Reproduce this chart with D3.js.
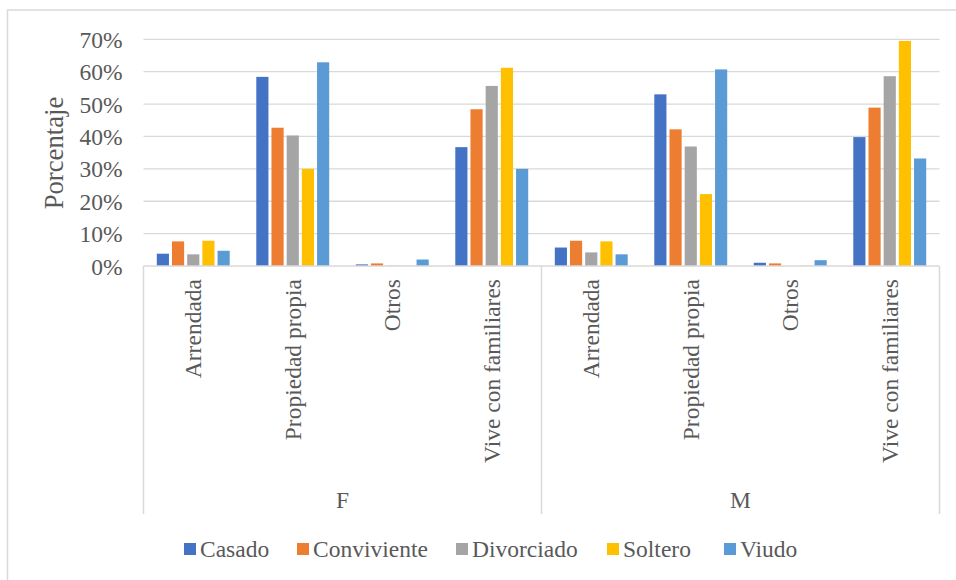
<!DOCTYPE html>
<html>
<head>
<meta charset="utf-8">
<script src="https://cdn.jsdelivr.net/npm/d3@7"></script>
<style>
    body { margin: 0; background: #fff; }
    text { font-family: "Liberation Serif", "Times New Roman", serif; fill: #595959; }
</style>
</head>
<body>
<div id="chart"></div>
<script>
// data
var sexos = ['F', 'M'];
var viviendas = ['Arrendada', 'Propiedad propia', 'Otros', 'Vive con familiares'];
var estados = ['Casado', 'Conviviente', 'Divorciado', 'Soltero', 'Viudo'];
var colores = ['#4472C4', '#ED7D31', '#A5A5A5', '#FFC000', '#5B9BD5'];

// values in order F (Arrendada, Propiedad, Otros, Vive), then M (same)
var casado      = [0.038, 0.584, 0.005, 0.367, 0.057, 0.530, 0.010, 0.398];
var conviviente = [0.076, 0.427, 0.008, 0.484, 0.078, 0.422, 0.008, 0.489];
var divorciado  = [0.036, 0.403, 0.001, 0.556, 0.042, 0.369, 0.000, 0.586];
var soltero     = [0.078, 0.300, 0.001, 0.612, 0.076, 0.222, 0.001, 0.695];
var viudo       = [0.047, 0.629, 0.020, 0.300, 0.036, 0.607, 0.018, 0.332];
var series = [casado, conviviente, divorciado, soltero, viudo];

var yTicks = [0, 0.1, 0.2, 0.3, 0.4, 0.5, 0.6, 0.7];

// svg setup
var svgWidth = 956;
var svgHeight = 580;

var plot = { left: 143.5, right: 939.5, top: 39.3, bottom: 266 };

var svg = d3.select('#chart')
    .append('svg')
    .attr('width', svgWidth)
    .attr('height', svgHeight);

// chart border
svg.append('rect')
    .attr('x', 7.5)
    .attr('y', 10)
    .attr('width', 1000)
    .attr('height', 700)
    .attr('fill', 'none')
    .attr('stroke', '#d9d9d9')
    .attr('stroke-width', 1.5);

// one key per sex + vivienda
var keys = [];
sexos.forEach(s => viviendas.forEach(v => keys.push(s + '|' + v)));

var x0 = d3.scaleBand()
    .domain(keys)
    .range([plot.left, plot.right]);

var x1 = d3.scaleBand()
    .domain(estados)
    .range([0, x0.bandwidth()])
    .paddingInner(0.2)
    .paddingOuter(0.875);

var yScale = d3.scaleLinear()
    .domain([0, 0.7])
    .range([plot.bottom, plot.top]);

// gridlines
svg.append('g')
    .selectAll('line')
    .data(yTicks.slice(1))
    .enter()
    .append('line')
    .attr('x1', plot.left)
    .attr('x2', plot.right)
    .attr('y1', d => yScale(d))
    .attr('y2', d => yScale(d))
    .attr('stroke', '#d9d9d9')
    .attr('stroke-width', 1.3);

// y axis labels
var leftAxis = d3.axisLeft(yScale)
    .tickValues(yTicks)
    .tickFormat(d3.format('.0%'))
    .tickSize(0)
    .tickPadding(21);

var yAxis = svg.append('g')
    .attr('transform', `translate(${plot.left}, 0)`)
    .call(leftAxis);
yAxis.select('.domain').remove();
yAxis.selectAll('text')
    .attr('font-size', '23.5px')
    .attr('font-family', '"Liberation Serif", serif')
    .attr('fill', '#595959')
    .attr('dy', '0.34em');

// bars
series.forEach((vals, i) => {
    svg.append('g')
        .selectAll('rect')
        .data(vals)
        .enter()
        .append('rect')
        .attr('x', (d, j) => x0(keys[j]) + x1(estados[i]))
        .attr('y', d => yScale(d))
        .attr('width', x1.bandwidth())
        .attr('height', d => plot.bottom - yScale(d))
        .attr('fill', colores[i]);
});

// category axis line and separators
svg.append('line')
    .attr('x1', plot.left)
    .attr('x2', plot.right)
    .attr('y1', plot.bottom)
    .attr('y2', plot.bottom)
    .attr('stroke', '#d9d9d9')
    .attr('stroke-width', 1.5);

var groupEdges = [plot.left, x0(keys[4]), plot.right];
svg.append('g')
    .selectAll('line')
    .data(groupEdges)
    .enter()
    .append('line')
    .attr('x1', d => d)
    .attr('x2', d => d)
    .attr('y1', plot.bottom)
    .attr('y2', 514)
    .attr('stroke', '#d9d9d9')
    .attr('stroke-width', 1.5);

// vivienda labels (rotated)
svg.append('g')
    .selectAll('text')
    .data(keys)
    .enter()
    .append('text')
    .attr('transform', d => `translate(${x0(d) + x0.bandwidth() / 2}, 279) rotate(-90)`)
    .attr('text-anchor', 'end')
    .attr('dy', '0.34em')
    .attr('font-size', '23.5px')
    .text(d => d.split('|')[1]);

// sex labels
svg.append('g')
    .selectAll('text')
    .data(sexos)
    .enter()
    .append('text')
    .attr('x', (d, i) => (groupEdges[i] + groupEdges[i + 1]) / 2)
    .attr('y', 508)
    .attr('text-anchor', 'middle')
    .attr('font-size', '23.5px')
    .text(d => d);

// y title
svg.append('text')
    .attr('transform', 'translate(63, 153) rotate(-90)')
    .attr('text-anchor', 'middle')
    .attr('font-size', '26.7px')
    .text('Porcentaje');

// legend
var legendX = [184, 297, 456, 607, 724];
var legend = svg.append('g')
    .selectAll('g')
    .data(estados)
    .enter()
    .append('g')
    .attr('transform', (d, i) => `translate(${legendX[i]}, 0)`);

legend.append('rect')
    .attr('x', 0)
    .attr('y', 543)
    .attr('width', 12)
    .attr('height', 12)
    .attr('fill', (d, i) => colores[i]);

legend.append('text')
    .attr('x', 16)
    .attr('y', 557)
    .attr('font-size', '23.5px')
    .text(d => d);
</script>
</body>
</html>
